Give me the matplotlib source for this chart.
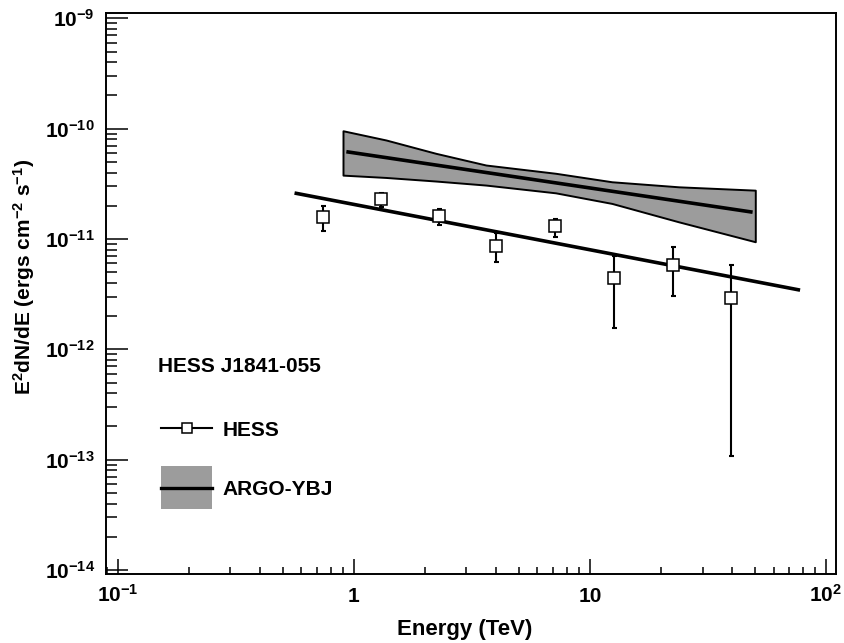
import matplotlib
matplotlib.use("Agg")
import matplotlib.pyplot as plt
from matplotlib.lines import Line2D
from matplotlib.patches import Patch, Rectangle
from matplotlib.legend_handler import HandlerPatch, HandlerTuple
from matplotlib.ticker import NullFormatter, LogLocator
import numpy as np

# ---------------- data ----------------
hess_E = [0.744, 1.308, 2.29, 4.02, 7.09, 12.63, 22.43, 39.8]
hess_F = [1.57e-11, 2.29e-11, 1.61e-11, 8.63e-12, 1.30e-11, 4.39e-12, 5.77e-12, 2.91e-12]
hess_F_hi = [1.97e-11, 2.61e-11, 1.87e-11, 1.125e-11, 1.51e-11, 7.0e-12, 8.45e-12, 5.77e-12]
hess_F_lo = [1.17e-11, 1.96e-11, 1.33e-11, 6.18e-12, 1.05e-11, 1.555e-12, 3.03e-12, 1.076e-13]

hess_fit_E = [0.561, 77.7]
hess_fit_F = [2.61e-11, 3.44e-12]

argo_band_E = [0.90, 1.37, 2.23, 3.63, 7.16, 12.4, 23.8, 50.2]
argo_band_hi = [9.57e-11, 7.89e-11, 5.97e-11, 4.68e-11, 3.94e-11, 3.30e-11, 2.97e-11, 2.77e-11]
argo_band_lo = [3.79e-11, 3.61e-11, 3.35e-11, 3.08e-11, 2.62e-11, 2.10e-11, 1.43e-11, 9.44e-12]

argo_fit_E = [0.93, 48.9]
argo_fit_F = [6.18e-11, 1.75e-11]

xticks = [0.1, 1, 10, 100]
xtick_labels = ['10$^{-1}$', '1', '10', '10$^{2}$']
yticks = [1e-14, 1e-13, 1e-12, 1e-11, 1e-10, 1e-9]
ytick_labels = ['10$^{-14}$', '10$^{-13}$', '10$^{-12}$', '10$^{-11}$', '10$^{-10}$', '10$^{-9}$']

source_name = 'HESS J1841-055'
series_names = ['HESS', 'ARGO-YBJ']
xlabel = 'Energy (TeV)'
ylabel = 'E$^{2}$dN/dE (ergs cm$^{-2}$ s$^{-1}$)'

# ---------------- style ----------------
plt.rcParams['font.family'] = ['Liberation Sans', 'DejaVu Sans']
plt.rcParams['font.weight'] = 'bold'
plt.rcParams['mathtext.fontset'] = 'custom'
plt.rcParams['mathtext.rm'] = 'Liberation Sans:bold'
plt.rcParams['mathtext.it'] = 'Liberation Sans:bold'
plt.rcParams['mathtext.bf'] = 'Liberation Sans:bold'
plt.rcParams['mathtext.default'] = 'bf'

band_gray = '#9c9c9c'

W, H = 844, 643
fig = plt.figure(figsize=(W / 100, H / 100), dpi=100)
ax_l, ax_r, ax_t, ax_b = 106, 836, 13, 574
ax = fig.add_axes([ax_l / W, 1 - ax_b / H, (ax_r - ax_l) / W, (ax_b - ax_t) / H])

ax.set_xscale('log')
ax.set_yscale('log')
ax.set_xlim(0.0892, 110.3)
ax.set_ylim(9.2e-15, 1.117e-9)

# ARGO-YBJ butterfly
ax.fill_between(argo_band_E, argo_band_lo, argo_band_hi, facecolor=band_gray,
                edgecolor='black', linewidth=1.4, zorder=2)
ax.plot(argo_fit_E, argo_fit_F, color='black', lw=2.6, zorder=3, solid_capstyle='butt')

# HESS fit line
ax.plot(hess_fit_E, hess_fit_F, color='black', lw=2.6, zorder=3, solid_capstyle='butt')

# HESS points
F = np.array(hess_F)
yerr = [F - np.array(hess_F_lo), np.array(hess_F_hi) - F]
ax.errorbar(hess_E, hess_F, yerr=yerr, fmt='none', ecolor='black', elinewidth=1.5,
            capsize=1.8, capthick=1.5, zorder=4)
ax.plot(hess_E, hess_F, linestyle='none', marker='s', ms=8, mfc='white', mec='black',
        mew=1.1, zorder=5)

# axes styling
for s in ax.spines.values():
    s.set_linewidth(1.4)
ax.set_xticks(xticks)
ax.set_xticklabels(xtick_labels, va='baseline')
ax.set_yticks(yticks)
ax.set_yticklabels(ytick_labels)
ax.xaxis.set_minor_locator(LogLocator(base=10, subs=np.arange(2, 10)))
ax.yaxis.set_minor_locator(LogLocator(base=10, subs=np.arange(2, 10)))
ax.xaxis.set_minor_formatter(NullFormatter())
ax.yaxis.set_minor_formatter(NullFormatter())
ax.tick_params(axis='x', which='major', direction='in', length=10.8, width=1.1,
               labelsize=15, pad=20, top=False)
ax.tick_params(axis='x', which='minor', direction='in', length=5.3, width=1.1, top=False)
ax.tick_params(axis='y', which='major', direction='in', length=15.6, width=1.1,
               labelsize=15, pad=8, right=False)
ax.tick_params(axis='y', which='minor', direction='in', length=7.7, width=1.1, right=False)

ax.set_xlabel(xlabel, fontsize=16, fontweight='bold')
ax.xaxis.set_label_coords((465 - ax_l) / (ax_r - ax_l), (ax_b - 619) / (ax_b - ax_t))
ax.set_ylabel(ylabel, fontsize=15, fontweight='bold')
ax.yaxis.set_label_coords((37 - ax_l) / (ax_r - ax_l), (ax_b - 276.5) / (ax_b - ax_t))

# legend header
ax.text((158 - ax_l) / (ax_r - ax_l), (ax_b - 367) / (ax_b - ax_t), source_name,
        transform=ax.transAxes, fontsize=15, fontweight='bold', ha='left', va='center')

fs_px = 15 / 72 * 100
patch_h = 43 * 0.72  # points (43 px at 100 dpi)


def centered_rect(legend, orig_handle, xdescent, ydescent, width, height, fontsize):
    yc = (height - ydescent) / 2
    return Rectangle((-xdescent, yc - patch_h / 2), width, patch_h)


hess_handle = Line2D([], [], color='black', lw=1.5, marker='s', ms=7, mfc='white',
                     mec='black', mew=1.1)
argo_patch = Patch(facecolor=band_gray, edgecolor='none')
argo_line = Line2D([], [], color='black', lw=2.4)
leg = ax.legend([hess_handle, (argo_patch, argo_line)], series_names, loc='upper left',
                bbox_to_anchor=(161 / W, 1 - 420.6 / H), bbox_transform=fig.transFigure,
                frameon=False, fontsize=15, borderpad=0, borderaxespad=0,
                handlelength=51 / fs_px, handleheight=0.77,
                handletextpad=(222.7 - 212) / fs_px, labelspacing=1.95,
                numpoints=1,
                handler_map={Patch: HandlerPatch(patch_func=centered_rect),
                             tuple: HandlerTuple(ndivide=1)})
for t in leg.get_texts():
    t.set_fontweight('bold')

fig.savefig('out.png', dpi=100)
